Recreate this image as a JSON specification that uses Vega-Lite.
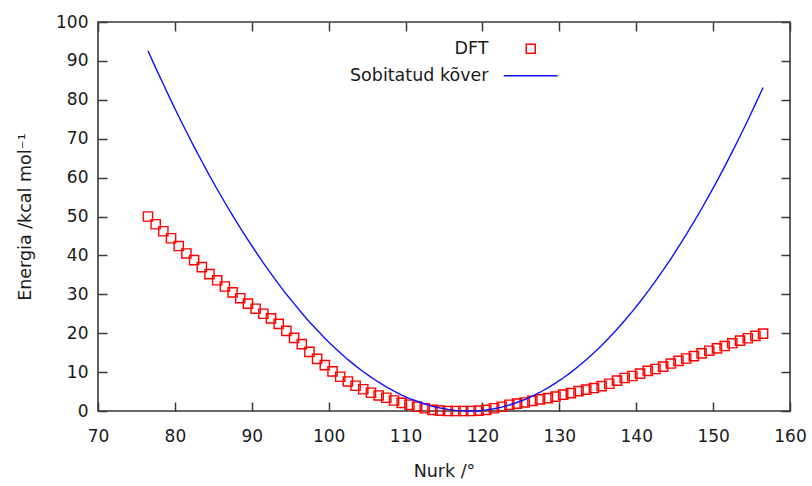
{
  "$schema": "https://vega.github.io/schema/vega-lite/v6.json",
  "width": 692,
  "height": 389,
  "autosize": "none",
  "padding": {"left": 98, "top": 22, "right": 22, "bottom": 75},
  "background": "white",
  "config": {
    "view": {"stroke": "#3a3a3a", "strokeWidth": 1.6},
    "font": "DejaVu Sans",
    "axis": {
      "grid": false,
      "domain": false,
      "ticks": true,
      "tickColor": "#3a3a3a",
      "tickWidth": 1.5,
      "tickSize": 9,
      "offset": -9,
      "labelFlush": false,
      "labelOverlap": false,
      "labelFont": "DejaVu Sans",
      "labelFontSize": 17,
      "labelColor": "#1a1a1a",
      "titleFont": "DejaVu Sans",
      "titleFontSize": 17.5,
      "titleFontWeight": "normal",
      "titleColor": "#1a1a1a"
    }
  },
  "data": {"values": [
    {"angle": 76.5, "dft": 50.0, "fit": 92.6},
    {"angle": 77.5, "dft": 48.0, "fit": 88.2},
    {"angle": 78.5, "dft": 46.2, "fit": 84.0},
    {"angle": 79.5, "dft": 44.4, "fit": 79.8},
    {"angle": 80.5, "dft": 42.4, "fit": 75.7},
    {"angle": 81.5, "dft": 40.5, "fit": 71.8},
    {"angle": 82.5, "dft": 38.8, "fit": 67.9},
    {"angle": 83.5, "dft": 37.0, "fit": 64.2},
    {"angle": 84.5, "dft": 35.2, "fit": 60.5},
    {"angle": 85.5, "dft": 33.6, "fit": 57.0},
    {"angle": 86.5, "dft": 32.0, "fit": 53.6},
    {"angle": 87.5, "dft": 30.5, "fit": 50.3},
    {"angle": 88.5, "dft": 29.0, "fit": 47.1},
    {"angle": 89.5, "dft": 27.6, "fit": 44.0},
    {"angle": 90.5, "dft": 26.3, "fit": 41.0},
    {"angle": 91.5, "dft": 25.0, "fit": 38.1},
    {"angle": 92.5, "dft": 23.8, "fit": 35.3},
    {"angle": 93.5, "dft": 22.4, "fit": 32.6},
    {"angle": 94.5, "dft": 20.6, "fit": 30.0},
    {"angle": 95.5, "dft": 18.8, "fit": 27.6},
    {"angle": 96.5, "dft": 17.2, "fit": 25.2},
    {"angle": 97.5, "dft": 15.2, "fit": 22.9},
    {"angle": 98.5, "dft": 13.4, "fit": 20.8},
    {"angle": 99.5, "dft": 11.8, "fit": 18.7},
    {"angle": 100.5, "dft": 10.2, "fit": 16.8},
    {"angle": 101.5, "dft": 8.8, "fit": 15.0},
    {"angle": 102.5, "dft": 7.6, "fit": 13.2},
    {"angle": 103.5, "dft": 6.5, "fit": 11.6},
    {"angle": 104.5, "dft": 5.6, "fit": 10.1},
    {"angle": 105.5, "dft": 4.7, "fit": 8.7},
    {"angle": 106.5, "dft": 4.0, "fit": 7.4},
    {"angle": 107.5, "dft": 3.4, "fit": 6.2},
    {"angle": 108.5, "dft": 2.7, "fit": 5.1},
    {"angle": 109.5, "dft": 2.1, "fit": 4.1},
    {"angle": 110.5, "dft": 1.6, "fit": 3.2},
    {"angle": 111.5, "dft": 1.1, "fit": 2.5},
    {"angle": 112.5, "dft": 0.7, "fit": 1.8},
    {"angle": 113.5, "dft": 0.3, "fit": 1.2},
    {"angle": 114.5, "dft": 0.1, "fit": 0.77},
    {"angle": 115.5, "dft": 0.0, "fit": 0.42},
    {"angle": 116.5, "dft": 0.0, "fit": 0.17},
    {"angle": 117.5, "dft": 0.0, "fit": 0.03},
    {"angle": 118.5, "dft": 0.0, "fit": 0.0},
    {"angle": 119.5, "dft": 0.1, "fit": 0.08},
    {"angle": 120.5, "dft": 0.3, "fit": 0.28},
    {"angle": 121.5, "dft": 0.7, "fit": 0.58},
    {"angle": 122.5, "dft": 1.1, "fit": 1.0},
    {"angle": 123.5, "dft": 1.6, "fit": 1.54},
    {"angle": 124.5, "dft": 1.9, "fit": 2.19},
    {"angle": 125.5, "dft": 2.2, "fit": 2.95},
    {"angle": 126.5, "dft": 2.6, "fit": 3.83},
    {"angle": 127.5, "dft": 3.0, "fit": 4.82},
    {"angle": 128.5, "dft": 3.3, "fit": 5.93},
    {"angle": 129.5, "dft": 3.7, "fit": 7.15},
    {"angle": 130.5, "dft": 4.2, "fit": 8.48},
    {"angle": 131.5, "dft": 4.6, "fit": 9.93},
    {"angle": 132.5, "dft": 5.1, "fit": 11.49},
    {"angle": 133.5, "dft": 5.5, "fit": 13.17},
    {"angle": 134.5, "dft": 5.9, "fit": 14.96},
    {"angle": 135.5, "dft": 6.4, "fit": 16.86},
    {"angle": 136.5, "dft": 7.0, "fit": 18.88},
    {"angle": 137.5, "dft": 7.8, "fit": 21.01},
    {"angle": 138.5, "dft": 8.5, "fit": 23.26},
    {"angle": 139.5, "dft": 9.0, "fit": 25.62},
    {"angle": 140.5, "dft": 9.6, "fit": 28.09},
    {"angle": 141.5, "dft": 10.3, "fit": 30.68},
    {"angle": 142.5, "dft": 10.8, "fit": 33.38},
    {"angle": 143.5, "dft": 11.4, "fit": 36.2},
    {"angle": 144.5, "dft": 12.2, "fit": 39.13},
    {"angle": 145.5, "dft": 12.9, "fit": 42.17},
    {"angle": 146.5, "dft": 13.5, "fit": 45.33},
    {"angle": 147.5, "dft": 14.1, "fit": 48.6},
    {"angle": 148.5, "dft": 14.8, "fit": 51.99},
    {"angle": 149.5, "dft": 15.5, "fit": 55.49},
    {"angle": 150.5, "dft": 16.1, "fit": 59.1},
    {"angle": 151.5, "dft": 16.7, "fit": 62.83},
    {"angle": 152.5, "dft": 17.4, "fit": 66.67},
    {"angle": 153.5, "dft": 18.1, "fit": 70.63},
    {"angle": 154.5, "dft": 18.7, "fit": 74.69},
    {"angle": 155.5, "dft": 19.3, "fit": 78.88},
    {"angle": 156.5, "dft": 19.9, "fit": 83.18}
  ]},
  "layer": [
    {
      "mark": {"type": "point", "filled": false, "strokeWidth": 1.4, "size": 85, "opacity": 1},
      "encoding": {
        "x": {"field": "angle", "type": "quantitative",
          "scale": {"domain": [70, 160], "nice": false, "zero": false},
          "axis": {"orient": "bottom", "values": [70, 80, 90, 100, 110, 120, 130, 140, 150, 160], "labelPadding": 17, "title": "Nurk /°", "titlePadding": 18}},
        "y": {"field": "dft", "type": "quantitative",
          "scale": {"domain": [0, 100], "nice": false, "zero": false},
          "axis": {"orient": "left", "values": [0, 10, 20, 30, 40, 50, 60, 70, 80, 90, 100], "labelPadding": 10, "title": "Energia /kcal mol⁻¹", "titlePadding": 21}},
        "color": {"datum": "DFT", "type": "nominal",
          "scale": {"domain": ["DFT", "Sobitatud kõver"], "range": ["#ff0000", "#1010ff"]},
          "legend": {
            "title": null, "orient": "none", "legendX": 424, "legendY": 18,
            "padding": 0, "symbolSize": 81, "symbolStrokeWidth": 1.5, "symbolFillColor": "transparent",
            "labelAlign": "right", "labelOffset": -51, "labelFontSize": 17.5, "labelFont": "DejaVu Sans", "labelColor": "#1a1a1a",
            "rowPadding": 8, "labelLimit": 300}},
        "shape": {"datum": "DFT", "type": "nominal",
          "scale": {"domain": ["DFT", "Sobitatud kõver"], "range": ["square", "M-6,0H6"]}}
      }
    },
    {
      "mark": {"type": "line", "strokeWidth": 1.4},
      "encoding": {
        "x": {"field": "angle", "type": "quantitative",
          "axis": {"orient": "top", "values": [70, 80, 90, 100, 110, 120, 130, 140, 150, 160], "labels": false, "title": null}},
        "y": {"field": "fit", "type": "quantitative",
          "axis": {"orient": "right", "values": [0, 10, 20, 30, 40, 50, 60, 70, 80, 90, 100], "labels": false, "title": null}},
        "color": {"datum": "Sobitatud kõver", "type": "nominal"}
      }
    }
  ],
  "resolve": {"axis": {"x": "independent", "y": "independent"}}
}
